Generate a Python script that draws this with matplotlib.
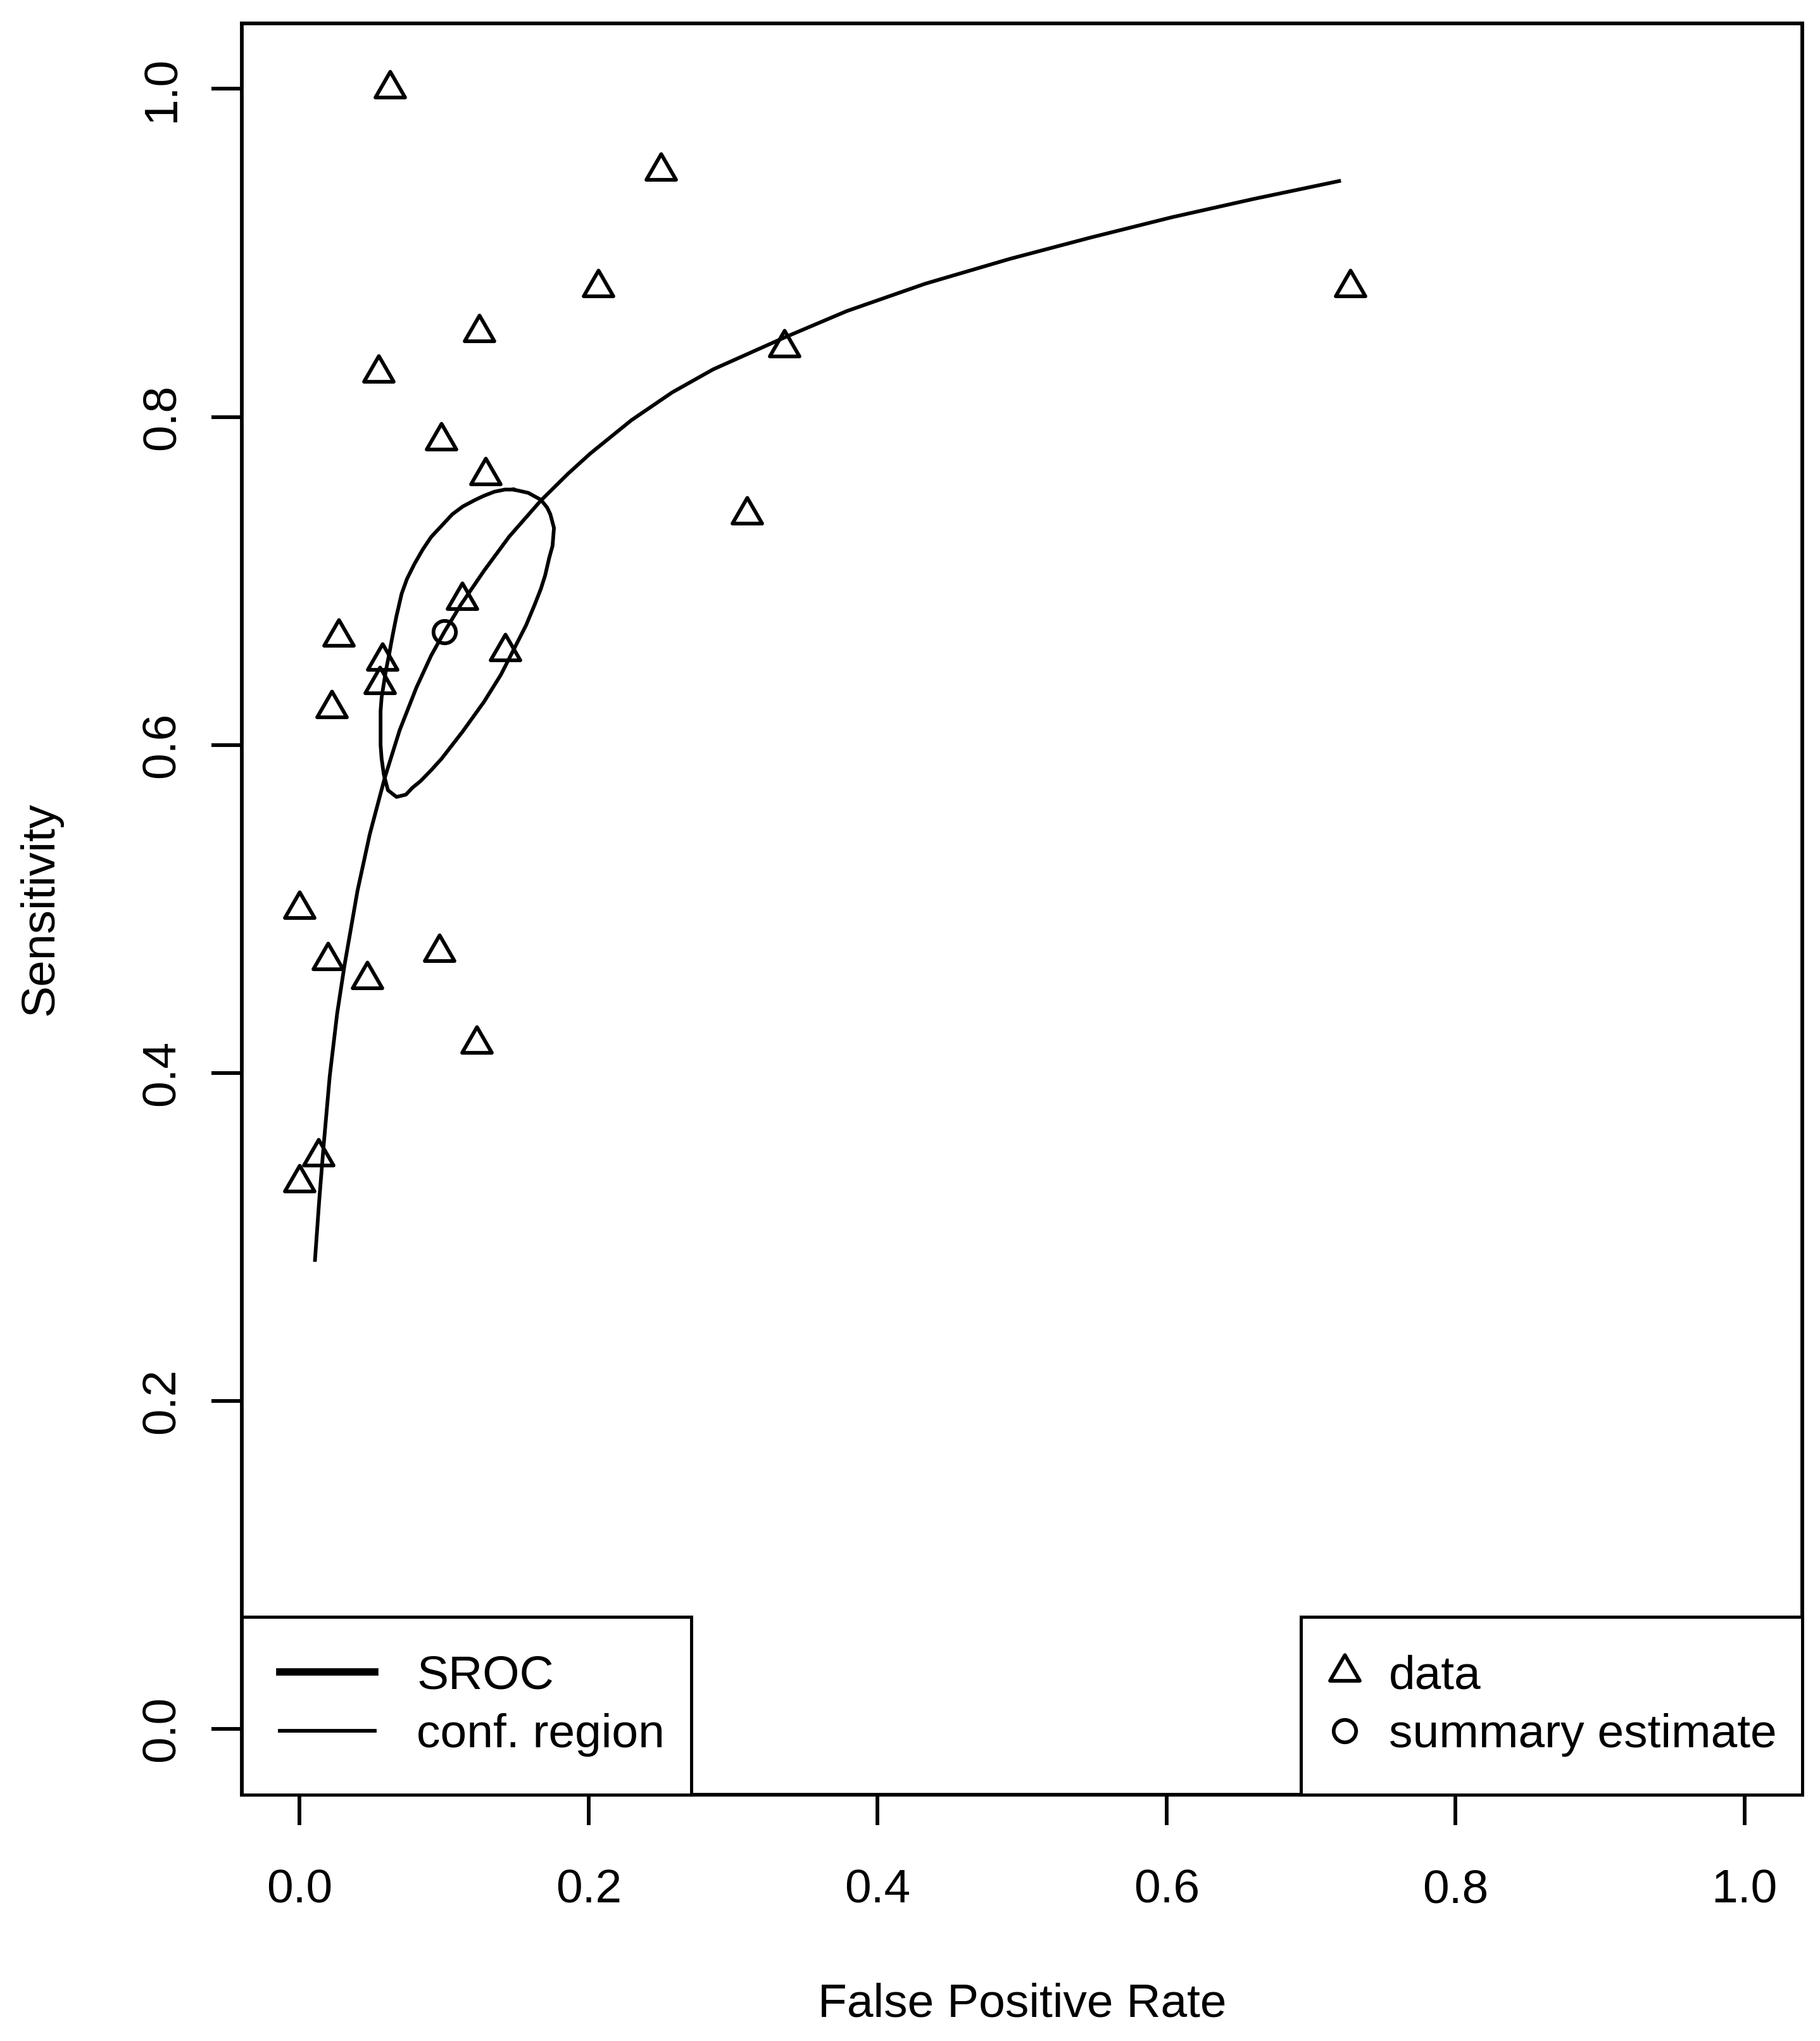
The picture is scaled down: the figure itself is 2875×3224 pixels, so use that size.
import numpy as np
import matplotlib.pyplot as plt
from matplotlib.lines import Line2D
from matplotlib.path import Path

plt.rcParams['font.family'] = ['Liberation Sans', 'DejaVu Sans']

# study points (false positive rate, sensitivity)
fpr = [0.0625, 0.25, 0.2065, 0.727, 0.1241, 0.3355, 0.0548, 0.0978, 0.1286,
       0.3097, 0.1125, 0.1423, 0.0268, 0.0573, 0.0553, 0.0222, 0.0, 0.0197,
       0.0468, 0.0966, 0.1227, 0.0129, 0.0]
sens = [1.0, 0.95, 0.879, 0.879, 0.8515, 0.8422, 0.8268, 0.7855, 0.7644,
        0.7405, 0.6882, 0.657, 0.6658, 0.6514, 0.637, 0.6222, 0.5, 0.4687,
        0.4572, 0.4736, 0.4178, 0.3491, 0.333]

# summary estimate
sum_fpr = [0.1001]
sum_sens = [0.6689]

# SROC curve
sroc_fpr = [0.0106, 0.0135, 0.0166, 0.0208, 0.0259, 0.031, 0.040, 0.0485,
            0.0589, 0.0692, 0.0808, 0.0910, 0.1001, 0.1115, 0.1275, 0.1450,
            0.1669, 0.1859, 0.2013, 0.2296, 0.2579, 0.2862, 0.3355, 0.3786,
            0.4329, 0.4913, 0.5476, 0.6040, 0.6603, 0.7194]
sroc_sens = [0.2860, 0.3220, 0.3560, 0.3980, 0.4360, 0.4655, 0.5110, 0.5455,
             0.5800, 0.6090, 0.6350, 0.6545, 0.6689, 0.6854, 0.7061, 0.7270,
             0.7490, 0.7655, 0.7778, 0.7980, 0.8150, 0.8290, 0.8484, 0.8645,
             0.8812, 0.8963, 0.9094, 0.9218, 0.9329, 0.9438]

# confidence region outline
conf_fpr = [0.1480, 0.1582, 0.1669, 0.1713, 0.1735, 0.1760, 0.1750, 0.1728,
            0.1699, 0.1669, 0.1626, 0.1567, 0.1480, 0.1392, 0.1275, 0.1129,
            0.0983, 0.0910, 0.0837, 0.0779, 0.0735, 0.0670, 0.0611, 0.0582,
            0.0567, 0.0560, 0.0560, 0.0567, 0.0582, 0.0597, 0.0619, 0.0633,
            0.0648, 0.0670, 0.0706, 0.0743, 0.0794, 0.0852, 0.0910, 0.0983,
            0.1056, 0.1129, 0.1217, 0.1275, 0.1348, 0.1421, 0.1480]
conf_sens = [0.7557, 0.7537, 0.7495, 0.7447, 0.7406, 0.7323, 0.7213, 0.7144,
             0.7034, 0.6951, 0.6854, 0.6730, 0.6579, 0.6427, 0.6262, 0.6083,
             0.5917, 0.5846, 0.5780, 0.5738, 0.5697, 0.5683, 0.5724, 0.5821,
             0.5917, 0.5999, 0.6207, 0.6289, 0.6372, 0.6455, 0.6551, 0.6620,
             0.6689, 0.6786, 0.6923, 0.7013, 0.7103, 0.7192, 0.7268, 0.7337,
             0.7406, 0.7454, 0.7495, 0.7519, 0.7544, 0.7557, 0.7557]

ticks = [0.0, 0.2, 0.4, 0.6, 0.8, 1.0]
tick_labels = ['0.0', '0.2', '0.4', '0.6', '0.8', '1.0']

# R style triangle (centroid at the point)
tri = Path([(0, 1.555), (1.347, -0.778), (-1.347, -0.778), (0, 1.555)],
           [Path.MOVETO, Path.LINETO, Path.LINETO, Path.CLOSEPOLY])

fs = 18
lw = 1.4
tri_ms = 13
dot_ms = 8.5

fig = plt.figure(figsize=(2875 / 300, 3224 / 300), dpi=300)
ax = fig.add_axes([0.1329, 0.1207, 0.8574, 0.8679])

ax.plot(sroc_fpr, sroc_sens, color='black', lw=lw, solid_joinstyle='round')
ax.plot(conf_fpr, conf_sens, color='black', lw=lw, solid_joinstyle='round')
ax.plot(fpr, sens, ls='none', marker=tri, ms=tri_ms, mfc='none', mec='black', mew=lw)
ax.plot(sum_fpr, sum_sens, ls='none', marker='o', ms=dot_ms, mfc='none', mec='black', mew=lw)

ax.set_xlim(-0.04, 1.04)
ax.set_ylim(-0.04, 1.04)
ax.set_xticks(ticks)
ax.set_xticklabels(tick_labels)
ax.set_yticks(ticks)
ax.set_yticklabels(tick_labels)
ax.tick_params(axis='both', direction='out', length=11.5, width=lw, labelsize=fs)
ax.tick_params(axis='x', pad=16.5)
ax.tick_params(axis='y', pad=10.5)
for lab in ax.get_yticklabels():
    lab.set_rotation(90)
    lab.set_va('center')
for sp in ax.spines.values():
    sp.set_linewidth(lw)

ax.set_xlabel('False Positive Rate', fontsize=fs, va='top')
ax.xaxis.set_label_coords(0.5, -0.106)
ax.set_ylabel('Sensitivity', fontsize=fs, va='center')
ax.yaxis.set_label_coords(-0.129, 0.5)

h1 = [Line2D([], [], color='black', lw=2.8), Line2D([], [], color='black', lw=lw)]
leg1 = ax.legend(h1, ['SROC', 'conf. region'], loc='lower left',
                 bbox_to_anchor=(0, 0, 0.288, 0.1), mode='expand',
                 borderaxespad=0, fontsize=fs, fancybox=False, framealpha=1,
                 edgecolor='black', borderpad=0.8, labelspacing=0.31,
                 handlelength=2.0, handletextpad=0.88)
leg1.get_frame().set_linewidth(1.2)
ax.add_artist(leg1)

h2 = [Line2D([], [], ls='none', marker=tri, ms=tri_ms, mfc='none', mec='black', mew=lw),
      Line2D([], [], ls='none', marker='o', ms=dot_ms, mfc='none', mec='black', mew=lw)]
leg2 = ax.legend(h2, ['data', 'summary estimate'], loc='lower left',
                 bbox_to_anchor=(0.6787, 0, 0.3213, 0.1), mode='expand',
                 borderaxespad=0, fontsize=fs, fancybox=False, framealpha=1,
                 edgecolor='black', borderpad=0.8, labelspacing=0.31,
                 handlelength=0.24, handletextpad=0.81, numpoints=1)
leg2.get_frame().set_linewidth(1.2)

fig.savefig('out.png', dpi=300)
